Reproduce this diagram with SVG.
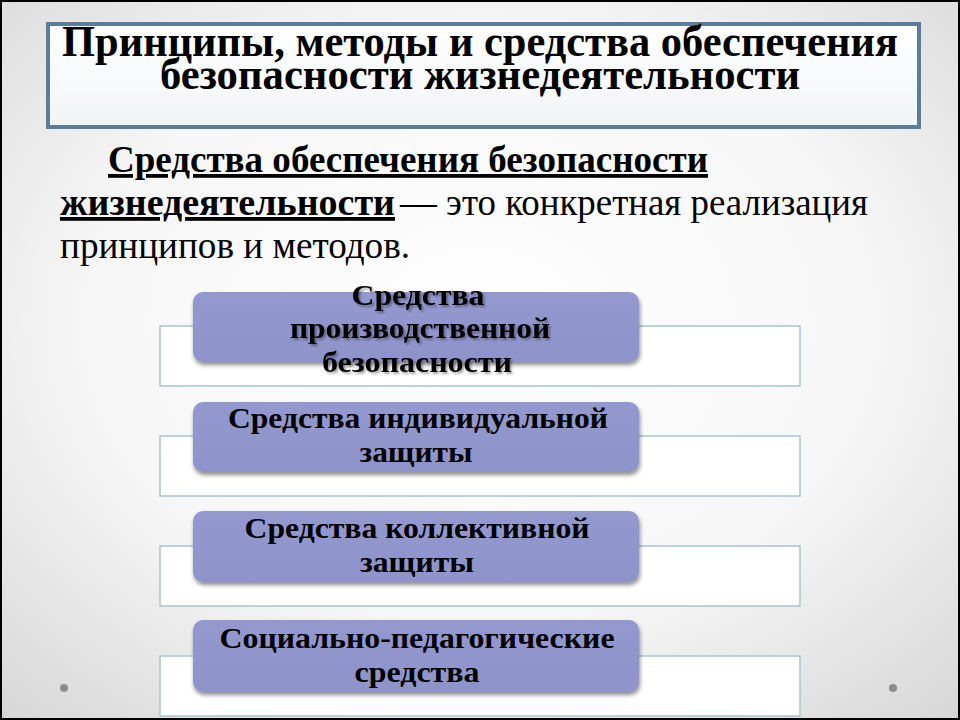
<svg xmlns="http://www.w3.org/2000/svg" width="960" height="720" viewBox="0 0 960 720">
<defs>
<radialGradient id="bg" cx="50%" cy="45%" r="75%">
<stop offset="0" stop-color="#ffffff"/>
<stop offset="0.55" stop-color="#f6f6f6"/>
<stop offset="1" stop-color="#d6d6d6"/>
</radialGradient>
<linearGradient id="tbox" x1="0" y1="0" x2="0" y2="1">
<stop offset="0" stop-color="#ffffff"/>
<stop offset="1" stop-color="#f1f4f7"/>
</linearGradient>
<linearGradient id="pill" x1="0" y1="0" x2="0" y2="1">
<stop offset="0" stop-color="#9398cf"/>
<stop offset="1" stop-color="#8e94c9"/>
</linearGradient>
<filter id="sh" x="-10%" y="-20%" width="120%" height="150%">
<feGaussianBlur in="SourceAlpha" stdDeviation="2"/>
<feOffset dx="1" dy="3" result="b"/>
<feComponentTransfer><feFuncA type="linear" slope="0.45"/></feComponentTransfer>
<feMerge><feMergeNode/><feMergeNode in="SourceGraphic"/></feMerge>
</filter>
<filter id="tsh" x="-5%" y="-20%" width="110%" height="150%">
<feGaussianBlur in="SourceAlpha" stdDeviation="1"/>
<feOffset dx="1.5" dy="2" result="b"/>
<feComponentTransfer><feFuncA type="linear" slope="0.35"/></feComponentTransfer>
<feMerge><feMergeNode/><feMergeNode in="SourceGraphic"/></feMerge>
</filter>
</defs>
<style>
.serif{font-family:"Liberation Serif","Times New Roman",serif;fill:#000}
.b{font-weight:bold}
.t{font-size:44px;font-weight:bold}
.p{font-size:38px}
.n{font-size:30px;font-weight:bold}
.n2{font-size:29px;font-weight:bold}
.outer{fill:#ffffff;stroke:#a8c3d2;stroke-width:1.5}
.pill{fill:url(#pill)}
.dot{fill:#8c8c8c}
</style>
<rect x="0" y="0" width="960" height="720" fill="url(#bg)"/>
<rect x="1" y="1" width="958" height="718" fill="none" stroke="#000" stroke-width="2"/>

<g id="title">
<rect x="48" y="24" width="871" height="103" fill="url(#tbox)" stroke="#5a7d9c" stroke-width="4"/>
<text class="serif t" x="480" y="56" text-anchor="middle" textLength="836" lengthAdjust="spacingAndGlyphs">Принципы, методы и средства обеспечения</text>
<text class="serif t" x="480" y="89" text-anchor="middle" textLength="640" lengthAdjust="spacingAndGlyphs">безопасности жизнедеятельности</text>
</g>

<g id="definition">
<text class="serif p b" x="108" y="172" text-decoration="underline" textLength="600" lengthAdjust="spacingAndGlyphs">Средства обеспечения безопасности</text>
<text class="serif p b" x="60" y="215" text-decoration="underline" textLength="335" lengthAdjust="spacingAndGlyphs">жизнедеятельности </text>
<text class="serif p" x="400" y="215" textLength="468" lengthAdjust="spacingAndGlyphs">— это конкретная реализация</text>
<text class="serif p" x="60" y="258" textLength="350" lengthAdjust="spacingAndGlyphs">принципов и методов.</text>
</g>

<g id="node1">
<rect class="outer" x="160" y="326" width="640" height="60"/>
<rect class="pill" x="193" y="292" width="446" height="70" rx="10" filter="url(#sh)"/>
<g filter="url(#tsh)">
<text class="serif n" x="418" y="305" text-anchor="middle" textLength="133" lengthAdjust="spacingAndGlyphs">Средства</text>
<text class="serif n" x="420" y="338" text-anchor="middle" textLength="260" lengthAdjust="spacingAndGlyphs">производственной</text>
<text class="serif n" x="417" y="372" text-anchor="middle" textLength="190" lengthAdjust="spacingAndGlyphs">безопасности</text>
</g>
</g>

<g id="node2">
<rect class="outer" x="160" y="436" width="640" height="60"/>
<rect class="pill" x="193" y="402" width="446" height="70" rx="10" filter="url(#sh)"/>
<text class="serif n2" x="418" y="428" text-anchor="middle" textLength="380" lengthAdjust="spacingAndGlyphs">Средства индивидуальной</text>
<text class="serif n2" x="416" y="462" text-anchor="middle" textLength="113" lengthAdjust="spacingAndGlyphs">защиты</text>
</g>

<g id="node3">
<rect class="outer" x="160" y="546" width="640" height="60"/>
<rect class="pill" x="193" y="511" width="446" height="71" rx="10" filter="url(#sh)"/>
<text class="serif n" x="417" y="538" text-anchor="middle" textLength="345" lengthAdjust="spacingAndGlyphs">Средства коллективной</text>
<text class="serif n" x="417" y="572" text-anchor="middle" textLength="114" lengthAdjust="spacingAndGlyphs">защиты</text>
</g>

<g id="node4">
<rect class="outer" x="160" y="656" width="640" height="60"/>
<rect class="pill" x="193" y="620" width="446" height="72" rx="10" filter="url(#sh)"/>
<text class="serif n" x="417" y="648" text-anchor="middle" textLength="395" lengthAdjust="spacingAndGlyphs">Социально-педагогические</text>
<text class="serif n" x="417" y="682" text-anchor="middle" textLength="125" lengthAdjust="spacingAndGlyphs">средства</text>
</g>

<circle class="dot" cx="64" cy="688" r="4"/>
<circle class="dot" cx="893" cy="688" r="4"/>
</svg>
